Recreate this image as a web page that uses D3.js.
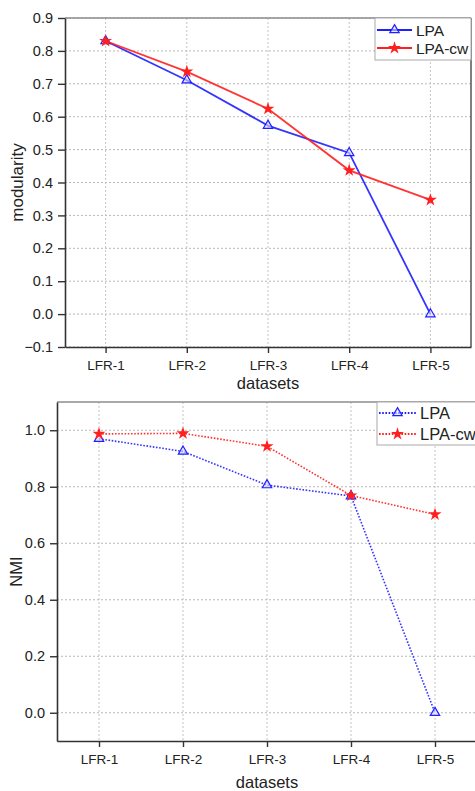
<!DOCTYPE html>
<html>
<head>
<meta charset="utf-8">
<script src="https://cdn.jsdelivr.net/npm/d3@7"></script>
<style>
  body { margin: 0; background: #fff; }
  svg { display: block; font-family: "Liberation Sans", Arial, sans-serif; }
</style>
</head>
<body>
<svg id="chart" width="475" height="791"></svg>
<script>
// data
var datasets = ["LFR-1", "LFR-2", "LFR-3", "LFR-4", "LFR-5"];
var seriesNames = ["LPA", "LPA-cw"];
var modLPA   = [0.830, 0.711, 0.573, 0.490, 0.000];
var modLPAcw = [0.830, 0.737, 0.624, 0.437, 0.347];
var nmiLPA   = [0.970, 0.925, 0.806, 0.767, 0.000];
var nmiLPAcw = [0.987, 0.989, 0.943, 0.769, 0.702];
var modTicks = [-0.1, 0.0, 0.1, 0.2, 0.3, 0.4, 0.5, 0.6, 0.7, 0.8, 0.9];
var nmiTicks = [0.0, 0.2, 0.4, 0.6, 0.8, 1.0];

var svg = d3.select("#chart");
var blue = "#1f1fff", red = "#ff1f1f";

function drawChart(opt) {
  var g = svg.append("g");
  var x = d3.scalePoint().domain(datasets).range([opt.left, opt.right]).padding(0.5);
  var y = d3.scaleLinear().domain(opt.domain).range([opt.bottom, opt.top]);

  // grid
  g.append("g").selectAll("line").data(opt.ticks).enter().append("line")
      .attr("x1", opt.left).attr("x2", opt.right)
      .attr("y1", function(d) { return y(d); }).attr("y2", function(d) { return y(d); })
      .attr("stroke", "#b8b8b8").attr("stroke-dasharray", "2,2");
  g.append("g").selectAll("line").data(datasets).enter().append("line")
      .attr("x1", function(d) { return x(d); }).attr("x2", function(d) { return x(d); })
      .attr("y1", opt.top).attr("y2", opt.bottom)
      .attr("stroke", "#c4c4c4").attr("stroke-dasharray", "2,2");

  // frame top/right
  g.append("line").attr("x1", opt.left).attr("x2", opt.right).attr("y1", opt.top).attr("y2", opt.top)
      .attr("stroke", "#8c8c8c").attr("stroke-width", 1.5);
  g.append("line").attr("x1", opt.right).attr("x2", opt.right).attr("y1", opt.top).attr("y2", opt.bottom)
      .attr("stroke", "#555").attr("stroke-width", 1.5);

  // axes
  var xAxis = g.append("g").attr("transform", "translate(0," + opt.bottom + ")")
      .call(d3.axisBottom(x).tickSizeInner(6).tickSizeOuter(0).tickPadding(7));
  var yAxis = g.append("g").attr("transform", "translate(" + opt.left + ",0)")
      .call(d3.axisLeft(y).tickValues(opt.ticks).tickFormat(d3.format(".1f")).tickSizeInner(7).tickSizeOuter(0).tickPadding(5));
  [xAxis, yAxis].forEach(function(a) {
    a.select(".domain").attr("stroke", "#333").attr("stroke-width", 1.6);
    a.selectAll(".tick line").attr("stroke", "#333").attr("stroke-width", 1.4);
    a.selectAll("text").attr("fill", "#222").attr("font-family", "Liberation Sans, Arial, sans-serif");
  });
  xAxis.selectAll("text").attr("font-size", 13.5);
  yAxis.selectAll("text").attr("font-size", 14.5);

  g.append("text").attr("x", (opt.left + opt.xMid)).attr("y", opt.xTitleY)
      .attr("text-anchor", "middle").attr("font-size", 16.5).attr("fill", "#222").text("datasets");
  g.append("text").attr("transform", "translate(" + opt.yTitleX + "," + (opt.top + opt.bottom) / 2 + ") rotate(-90)")
      .attr("text-anchor", "middle").attr("font-size", opt.yTitleFont).attr("fill", "#222").text(opt.yTitle);

  var line = d3.line().x(function(d, i) { return x(datasets[i]); }).y(function(d) { return y(d); });
  var series = [
    {name: seriesNames[0], values: opt.lpa, color: blue, shape: "tri"},
    {name: seriesNames[1], values: opt.cw, color: red, shape: "star"}
  ];
  var tri = d3.symbol().type(d3.symbolTriangle).size(38);
  var star = d3.symbol().type(d3.symbolStar).size(52);

  function marker(sel, s) {
    if (s.shape === "tri") {
      sel.attr("d", tri).attr("fill", "rgba(220,220,255,0.6)").attr("stroke", s.color).attr("stroke-width", 1.2);
    } else {
      sel.attr("d", star).attr("fill", s.color).attr("stroke", "none");
    }
  }

  series.forEach(function(s) {
    g.append("path").datum(s.values).attr("d", line)
        .attr("fill", "none").attr("stroke", s.color).attr("stroke-width", opt.dashed ? 1.6 : 1.8)
        .attr("stroke-dasharray", opt.dashed ? "1.6,1.6" : null)
        .attr("stroke-opacity", 0.9);
    g.append("g").selectAll("path").data(s.values).enter().append("path")
        .attr("transform", function(d, i) { return "translate(" + x(datasets[i]) + "," + y(d) + ")"; })
        .call(marker, s);
  });

  // legend
  var lg = g.append("g").attr("transform", "translate(" + opt.legX + "," + opt.top + ")");
  lg.append("rect").attr("x", 0).attr("y", 0).attr("width", opt.legW).attr("height", opt.legH)
      .attr("fill", "#fff").attr("stroke", "#aaa").attr("stroke-width", 1);
  series.forEach(function(s, i) {
    var yy = opt.legRow0 + i * opt.legRowH;
    lg.append("line").attr("x1", 2).attr("x2", opt.legLine).attr("y1", yy).attr("y2", yy)
        .attr("stroke", s.color).attr("stroke-width", 1.8)
        .attr("stroke-dasharray", opt.dashed ? "1.6,1.6" : null);
    lg.append("path").attr("transform", "translate(" + (2 + opt.legLine) / 2 + "," + yy + ")").call(marker, s);
    lg.append("text").attr("x", opt.legLine + 4).attr("y", yy).attr("dy", "0.36em")
        .attr("font-size", opt.legFont).attr("fill", "#222").text(s.name);
  });
}

drawChart({
  left: 65, right: 471, top: 18, bottom: 347,
  domain: [-0.1, 0.9], ticks: modTicks,
  lpa: modLPA, cw: modLPAcw, dashed: false,
  yTitle: "modularity", yTitleX: 23, yTitleFont: 17, xMid: 203, xTitleY: 389,
  legX: 375, legW: 96, legH: 42, legRow0: 12, legRowH: 18, legLine: 37, legFont: 15.5
});

drawChart({
  left: 57, right: 477, top: 402, bottom: 741,
  domain: [-0.1, 1.1], ticks: nmiTicks,
  lpa: nmiLPA, cw: nmiLPAcw, dashed: true,
  yTitle: "NMI", yTitleX: 22, yTitleFont: 16.5, xMid: 210, xTitleY: 788,
  legX: 377, legW: 100, legH: 43, legRow0: 11, legRowH: 21, legLine: 39, legFont: 16.5
});
</script>
</body>
</html>
